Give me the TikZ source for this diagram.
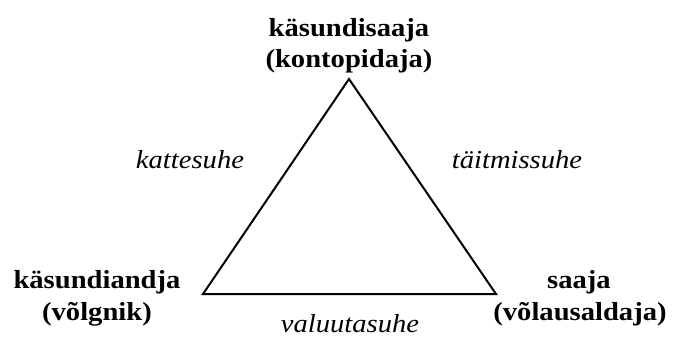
\documentclass[tikz,border=0pt]{standalone}
\usepackage{fontspec}
\setmainfont{Liberation Serif}
\newcommand{\stretchtxt}[1]{\scalebox{1.1}[1]{#1}}
\tikzset{
  party/.style={anchor=base, inner sep=0pt, font=\fontsize{26}{30}\selectfont\bfseries},
  rel/.style={anchor=base, inner sep=0pt, text depth=0pt, font=\fontsize{26}{30}\selectfont\itshape},
  edge/.style={line width=2pt, line join=miter}
}
\begin{document}
\begin{tikzpicture}[x=1pt,y=-1pt]
\useasboundingbox (0,0) rectangle (678,337);
\coordinate (A) at (349,79);
\coordinate (B) at (203,294);
\coordinate (C) at (496,294);
\draw[edge] (A) -- (B) -- (C) -- cycle;
\node[party] (t1) at (349,37) {\stretchtxt{käsundisaaja}};
\node[party] (t2) at (349,68) {\stretchtxt{(kontopidaja)}};
\node[party] (l1) at (97,288) {\stretchtxt{käsundiandja}};
\node[party] (l2) at (97,320) {\stretchtxt{(võlgnik)}};
\node[party] (r1) at (579,288) {\stretchtxt{saaja}};
\node[party] (r2) at (580,320) {\stretchtxt{(võlausaldaja)}};
\node[rel] (k) at (190,168) {\stretchtxt{kattesuhe}};
\node[rel] (tt) at (517,168) {\stretchtxt{täitmissuhe}};
\node[rel] (v) at (350,332) {\stretchtxt{valuutasuhe}};
\end{tikzpicture}
\end{document}
